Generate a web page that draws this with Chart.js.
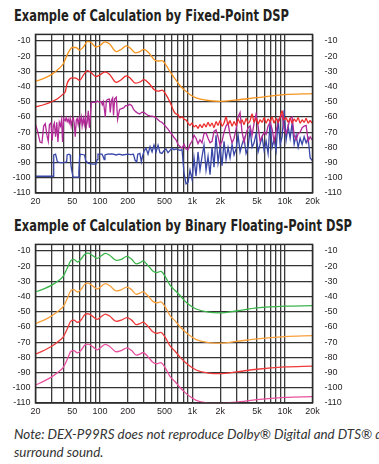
<!DOCTYPE html>
<html lang="en">
<head>
<meta charset="UTF-8">
<title>Example of Calculation by DSP</title>
<script src="https://cdn.jsdelivr.net/npm/chart.js"></script>
<style>
  html, body { margin: 0; padding: 0; background: #fff; }
  body { width: 379px; height: 464px; position: relative; overflow: hidden; font-family: "Liberation Sans", Arial, sans-serif; color: #231f20; }
  .title { position: absolute; left: 14px; font-family: "Liberation Sans Narrow", "DejaVu Sans Condensed", sans-serif; font-weight: bold; font-size: 15px; white-space: nowrap; transform-origin: 0 0; color: #231f20; }
  #t1 { top: 7px; }
  #t2 { top: 217px; }
  canvas { position: absolute; left: 0; }
  #c1 { top: 24px; }
  #c2 { top: 234px; }
  .note { position: absolute; left: 14px; top: 425px; font-family: Lato, "Liberation Sans", sans-serif; font-style: italic; font-size: 13.4px; line-height: 18px; color: #333; white-space: nowrap; }
</style>
</head>
<body>

<div class="title" id="t1">Example of Calculation by Fixed-Point DSP</div>
<canvas id="c1" width="379" height="190"></canvas>
<div class="title" id="t2">Example of Calculation by Binary Floating-Point DSP</div>
<canvas id="c2" width="379" height="190"></canvas>
<div class="note">Note: DEX-P99RS does not reproduce Dolby® Digital and DTS® digital<br>surround sound.</div>

<script>
// axis ticks
const yTicks = [-10, -20, -30, -40, -50, -60, -70, -80, -90, -100, -110];
const xGrid = [20, 30, 40, 50, 60, 70, 80, 90, 100, 200, 300, 400, 500, 600, 700, 800, 900,
  1000, 2000, 3000, 4000, 5000, 6000, 7000, 8000, 9000, 10000, 20000];
const xLabels = { 20: '20', 50: '50', 100: '100', 200: '200', 500: '500', 1000: '1k', 2000: '2k', 5000: '5k', 10000: '10k', 20000: '20k' };

// ---- Fixed-point DSP ----
const orangeHz = [20, 25, 30, 35, 40, 45, 50, 55, 60, 66, 73, 80, 90, 100, 113, 127, 150, 170, 192, 215, 240, 270, 300, 340, 390, 430, 470, 520, 570, 650, 725, 830, 930, 1100, 1400, 2000, 3000, 5000, 10000, 20000];
const orangeDb = [-36.7, -34.5, -32, -28.8, -25, -18, -14.3, -14.3, -16, -14, -10.3, -11, -14, -13, -10.6, -12, -17, -15.5, -13.2, -15, -17.8, -17, -15.5, -18, -22.5, -23.2, -23, -26, -30, -35, -39, -42.5, -45, -47.5, -49, -49.7, -48.8, -47.3, -45.3, -44.6];

const redHz = [20, 25, 30, 35, 40, 42, 44, 47, 50, 55, 60, 66, 73, 80, 90, 100, 113, 127, 150, 170, 192, 215, 240, 270, 300, 340, 390, 430, 470, 520, 570, 633,
  665, 699, 735, 773, 812, 854, 897, 943, 991, 1042, 1095, 1151, 1210, 1272, 1337, 1406, 1478, 1553, 1633, 1716, 1804, 1897, 1994,
  2096, 2203, 2316, 2435, 2559, 2690, 2828, 2973, 3125, 3285, 3453, 3630, 3816, 4012, 4217, 4433, 4660, 4899, 5150, 5413,
  5690, 5982, 6288, 6610, 6949, 7304, 7678, 8072, 8485, 8919, 9376, 9856, 10361, 10892, 11450, 12036, 12652, 13300, 13981,
  14697, 15450, 16241, 17073, 17947, 18866, 19832, 20000];
const redDb = [-53.3, -51.8, -50, -47.8, -44.8, -43.5, -38, -35, -34.3, -34.5, -36, -32.5, -29.5, -30.8, -33.5, -32.3, -30.3, -32, -37.3, -35.5, -33, -34.8, -37.8, -37, -35.5, -38, -42.3, -43, -42.3, -45.5, -50, -56.5,
  -58, -58.5, -60.5, -60, -61.5, -62, -64, -65.5, -64, -66.5, -65.5, -67.5, -65, -67, -64.5, -66.5, -63.5, -66, -64, -67, -63, -65.5, -62.5,
  -66, -64, -60, -65, -62.5, -66, -63, -65.5, -61.5, -64, -62, -65, -61, -64, -62.5, -58, -63.5, -61, -64.5, -62,
  -63.5, -60.5, -64, -61.5, -63, -60, -64, -61, -63.5, -60, -56, -62, -60.5, -63.5, -61, -64, -61.5, -63, -60.5,
  -64, -62, -63.5, -61, -64, -62.5, -64, -63.5];

const magentaHz = [20, 21, 22.4, 23.5, 24.5, 25.5, 26.6, 27.5, 28.3, 29.4, 30.3, 31.2, 32, 33, 34, 35, 36.2, 37.3, 38.3, 39.3, 40.2, 41.9, 43, 44.1, 45.2, 46.4, 47.5, 48.7, 50, 51.3, 52.5, 53.9, 55.3, 56.7, 58, 59.6, 61, 62.7, 64, 65.9, 67.5, 69.3, 71, 72.8, 74.6, 76.6, 78.5,
  80.5, 84.7, 89, 93.6, 98, 103, 106, 109, 114, 117, 120, 126, 129, 133, 137, 140, 144, 150, 155, 158, 163, 171, 180, 189, 199, 209, 220, 231, 243, 256, 269, 285, 299, 315, 331, 348, 366, 384, 404, 425, 446, 469, 493, 518, 545, 573, 602, 633, 665, 699, 735, 773,
  812, 854, 897, 943, 991, 1042, 1095, 1151, 1210, 1272, 1337, 1406, 1478, 1553, 1633, 1716, 1804, 1897, 1994,
  2096, 2203, 2316, 2435, 2559, 2690, 2828, 2973, 3125, 3285, 3453, 3630, 3816, 4012, 4217, 4433, 4660, 4899, 5150, 5413,
  5690, 5982, 6288, 6610, 6949, 7304, 7678, 8072, 8485, 8919, 9376, 9856, 10361, 10892, 11450, 12036, 12652, 13300, 13981,
  14697, 15450, 16241, 17073, 17947, 18866, 19832, 20000];
const magentaDb = [-65, -69, -76.5, -77, -66, -64.5, -72, -76, -65, -64, -75.5, -66, -64, -73, -63.5, -76.5, -63.5, -66, -62, -76.5, -61, -62.5, -60.5, -63, -61.5, -64, -61, -66, -62, -60.5, -64, -73, -62, -61, -65, -60.5, -63.5, -60, -66, -61, -65, -59.5, -66, -63, -56, -67, -60,
  -50.5, -50.3, -50.5, -49.5, -50.2, -49.8, -52, -50, -60, -49.5, -48.5, -48.2, -57, -49, -47.5, -59, -48, -47, -61.5, -59, -55, -54.5, -54, -52.5, -52.5, -51.7, -52.5, -55, -56.5, -57.5, -58, -56.8, -57, -58, -59, -59.3, -59.5, -59.8, -60.5, -61.8, -63, -63.5, -65, -66.5, -68, -70, -71.5, -73.5, -75, -78, -79.5, -80.5,
  -78, -81, -81.5, -78, -76, -72, -74, -77.5, -75, -77, -71, -70.5, -74, -77, -76, -69.5, -68.5, -73, -78.5,
  -76, -70, -66, -64, -72, -77, -74, -68, -60, -57, -70, -76.5, -71, -67, -66, -72, -64, -58, -66, -76,
  -73, -70, -71.5, -66, -63.5, -68, -76, -69, -64, -60, -58.5, -68, -71, -66, -61, -60, -72, -75, -71,
  -70, -67, -66, -65.5, -76, -73, -75, -74];

const blueHz = [20, 31, 31.5, 33, 34.5, 37, 40, 43.5, 44, 46, 47.5, 48, 49, 51, 58, 59, 60, 61, 68, 70, 75, 84, 90, 93, 95, 105, 108, 111, 113, 120, 135, 150, 160, 175, 200, 215, 230, 240, 250, 256, 270, 280, 288,
  299, 315, 331, 348, 366, 384, 404, 425, 446, 469, 493, 518, 545, 573, 602, 633, 665, 699, 735, 773,
  812, 854, 897, 943, 991, 1042, 1095, 1151, 1210, 1272, 1337, 1406, 1478, 1553, 1633, 1716, 1804, 1897, 1994,
  2096, 2203, 2316, 2435, 2559, 2690, 2828, 2973, 3125, 3285, 3453, 3630, 3816, 4012, 4217, 4433, 4660, 4899, 5150, 5413,
  5690, 5982, 6288, 6610, 6949, 7304, 7678, 8072, 8485, 8919, 9376, 9856, 10361, 10892, 11450, 12036, 12652, 13300, 13981,
  14697, 15450, 16241, 17073, 17947, 18866, 19832, 20000];
const blueDb = [-99, -99, -85, -84.5, -89.5, -90, -90, -89.5, -85, -84.5, -85, -89.5, -94, -99.5, -99.5, -96, -87, -84.5, -85, -89, -90.5, -91, -91, -88, -84.5, -84.5, -86, -88, -85, -84.5, -84.3, -85, -84.5, -85, -84.5, -84.7, -84.5, -88.5, -89.5, -84.5, -84, -89.5, -86,
  -82.5, -80.5, -84.5, -79.5, -83, -78.5, -83, -78.5, -83.5, -84, -82, -81, -83.5, -82, -80.5, -81.5, -81, -81.5, -82, -81.5,
  -97, -104, -103, -95, -101, -87, -99, -83, -95, -86, -78.5, -95, -86, -98, -80, -93, -72, -90, -80,
  -92, -76, -88, -80, -87, -78, -85, -81, -72, -83, -78, -74, -84, -80, -68, -80, -77, -71, -83, -78,
  -73, -82, -76, -84, -63, -80, -75, -82, -61, -78, -73, -55.5, -75, -66, -74, -64, -78, -72, -80,
  -74, -78, -73, -77, -74, -87, -88.5, -88];

// ---- Binary floating-point DSP ----
const floatHz = [20, 25, 30, 35, 40, 44, 48, 52, 57, 63, 68, 74, 82, 93, 104, 114, 127, 150, 170, 195, 220, 247, 270, 292, 330, 370, 410, 455, 510, 570, 650, 727, 830, 930, 1100, 1500, 2000, 3000, 5000, 10000, 20000];
const greenDb = [-37, -34.8, -32.5, -29.8, -26.5, -21.5, -16.5, -15.5, -17.3, -15, -12.3, -11.5, -12.8, -14.9, -13, -11.6, -12.8, -16.2, -15.5, -13.6, -15.5, -18.5, -17.8, -16.6, -19.5, -23, -24.2, -23.5, -27, -32.3, -36, -39, -43, -45.5, -48.2, -50.3, -50.7, -49.5, -47.5, -46.3, -46];
const orange2Db = [-57.7, -55.3, -52.7, -49.7, -46.5, -41.5, -36.3, -35.5, -37, -35, -32, -31.2, -32.7, -35, -33, -31.5, -32.8, -36.3, -35.5, -33.8, -35.5, -38.5, -37.8, -36.8, -39.5, -43, -44.2, -43.5, -47, -52.3, -56, -59.5, -63, -65.5, -68.3, -70.3, -70.6, -69.5, -67.8, -66.3, -65.7];
const red2Db = [-77.8, -75.3, -72.7, -69.7, -66.5, -61.5, -56.3, -55.5, -57, -55, -52, -51.3, -52.7, -55, -53, -51.5, -52.8, -56.3, -55.5, -53.8, -55.5, -58.5, -57.8, -56.8, -59.5, -63, -64.2, -63.5, -67, -72.3, -76, -79.5, -83, -85.5, -88.3, -90.3, -90.7, -89.5, -87.8, -86.3, -85.7];
const pinkDb = [-98.2, -95.5, -92.8, -89.7, -86.5, -81.5, -76.3, -75.5, -77, -75, -72, -71.3, -72.7, -75, -73, -71.5, -72.8, -76.3, -75.5, -73.8, -75.5, -78.5, -77.8, -76.8, -79.5, -83, -84.2, -83.5, -87, -92.3, -96, -99.5, -103, -105.5, -108.3, -110, -110.3, -109.5, -107.8, -106.3, -105.8];

// squeeze the bold titles to the condensed width of the original
[['t1', 275], ['t2', 338]].forEach(([id, w]) => {
  const el = document.getElementById(id);
  el.style.transform = 'scaleX(' + (w / el.getBoundingClientRect().width) + ')';
});

function pts(hz, db) {
  return hz.map((f, i) => ({ x: f, y: db[i] }));
}

function series(hz, db, color, smooth) {
  return {
    data: pts(hz, db),
    borderColor: color,
    borderWidth: 1.3,
    pointRadius: 0,
    fill: false,
    tension: 0,
    cubicInterpolationMode: smooth ? 'monotone' : 'default'
  };
}

// frame around plot area
const framePlugin = {
  id: 'frame',
  afterDraw(chart) {
    const a = chart.chartArea, ctx = chart.ctx;
    ctx.save();
    ctx.strokeStyle = '#2b2b2b';
    ctx.lineWidth = 1.5;
    ctx.strokeRect(a.left, a.top, a.right - a.left, a.bottom - a.top);
    ctx.restore();
  }
};

const tickFont = { family: '"Liberation Sans", Arial, sans-serif', size: 9 };

function makeChart(id, datasets) {
  return new Chart(document.getElementById(id), {
    type: 'line',
    data: { datasets: datasets },
    options: {
      responsive: false,
      animation: false,
      devicePixelRatio: 1,
      layout: { padding: { top: 6, left: 0, right: 0, bottom: 0 } },
      plugins: { legend: { display: false }, tooltip: { enabled: false } },
      scales: {
        x: {
          type: 'logarithmic', min: 20, max: 20000,
          afterBuildTicks: (axis) => { axis.ticks = xGrid.map(v => ({ value: v })); },
          afterFit: (axis) => { axis.height = 21; },
          ticks: { autoSkip: false, maxRotation: 0, padding: 3, color: '#231f20', font: tickFont,
            callback: (v) => xLabels[v] || '' },
          grid: { drawTicks: false, lineWidth: 1.3, color: '#3a3a3a' },
          border: { display: false }
        },
        y: {
          position: 'left', min: -110, max: -5.7,
          afterBuildTicks: (axis) => { axis.ticks = yTicks.map(v => ({ value: v })); },
          afterFit: (axis) => { axis.width = 35.5; },
          ticks: { padding: 5, color: '#231f20', font: tickFont },
          grid: { drawTicks: false, lineWidth: 1.3, color: '#333' },
          border: { display: false }
        },
        y2: {
          position: 'right', min: -110, max: -5.7,
          afterBuildTicks: (axis) => { axis.ticks = yTicks.map(v => ({ value: v })); },
          afterFit: (axis) => { axis.width = 66.5; },
          ticks: { padding: 4, color: '#231f20', font: tickFont },
          grid: { display: false },
          border: { display: false }
        }
      }
    },
    plugins: [framePlugin]
  });
}

makeChart('c1', [
  series(orangeHz, orangeDb, '#f7941e', true),
  series(redHz, redDb, '#ee2b2b', true),
  series(magentaHz, magentaDb, '#b32a98', false),
  series(blueHz, blueDb, '#3846a8', false)
]);

makeChart('c2', [
  series(floatHz, greenDb, '#3ab54a', true),
  series(floatHz, orange2Db, '#f8a03c', true),
  series(floatHz, red2Db, '#ef3b3b', true),
  series(floatHz, pinkDb, '#e9509f', true)
]);
</script>
</body>
</html>
